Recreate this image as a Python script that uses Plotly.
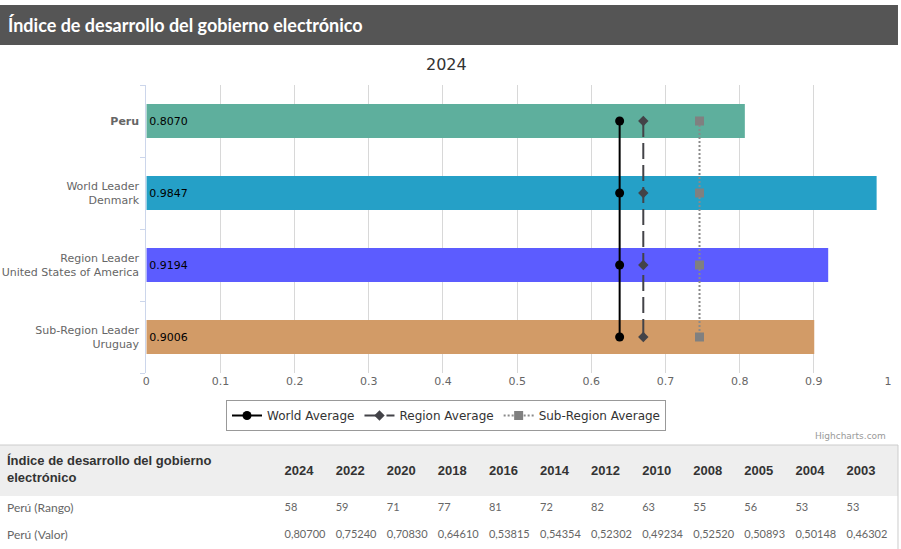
"""EGDI 2024 · Perú vs líderes (Highcharts-like bar + tabla histórica)."""
import plotly.graph_objects as go

REF_W, H = 901, 549
W = 911  # el visor comprime ~1% en horizontal; se compensa con un lienzo algo más ancho

# --- datos ---
categories = ["Peru", "World Leader<br>Denmark", "Region Leader<br>United States of America",
              "Sub-Region Leader<br>Uruguay"]
tick_labels = ["<b>Peru</b>", "World Leader<br>Denmark", "Region Leader<br>United States of America",
               "Sub-Region Leader<br>Uruguay"]
egdi_2024 = [0.8070, 0.9847, 0.9194, 0.9006]
world_avg = [0.6382, 0.6382, 0.6382, 0.6382]
region_avg = [0.6701, 0.6701, 0.6701, 0.6701]
subregion_avg = [0.7459, 0.7459, 0.7459, 0.7459]

table_title = "Índice de desarrollo del gobierno<br>electrónico"
row_labels = ["Perú (Rango)", "Perú (Valor)"]
years = ["2024", "2022", "2020", "2018", "2016", "2014", "2012", "2010", "2008", "2005", "2004", "2003"]
peru_rank = ["58", "59", "71", "77", "81", "72", "82", "63", "55", "56", "53", "53"]
peru_value = ["0,80700", "0,75240", "0,70830", "0,64610", "0,53815", "0,54354", "0,52302",
              "0,49234", "0,52520", "0,50893", "0,50148", "0,46302"]

# --- estilos ---
BAR_COLORS = ["#5EAF9D", "#25A0C7", "#5C5CFF", "#D29B67"]
TEXT = "#333333"
LABEL = "#666666"
GRID = "#D8D8D8"
AXIS = "#CCD6EB"
HEAD_BG = "#EEEEEE"
CLEAR = "rgba(0,0,0,0)"
CHART_FONT = "DejaVu Sans"
BODY_FONT = "Lato"


def px(x):
    return x / REF_W


def py(y):
    return 1 - y / H


fig = go.Figure()

fig.add_trace(go.Bar(
    y=categories, x=egdi_2024, orientation="h",
    marker=dict(color=BAR_COLORS, line=dict(width=0)),
    width=0.47,
    texttemplate="%{x:.4f}", textposition="inside", insidetextanchor="start",
    textfont=dict(color="#000000", size=11, family=CHART_FONT),
    constraintext="none", cliponaxis=False,
    showlegend=False, hoverinfo="skip",
))

fig.add_trace(go.Scatter(
    y=categories, x=world_avg, mode="lines+markers", name="World Average",
    line=dict(color="#000000", width=2),
    marker=dict(symbol="circle", size=9, color="#000000"),
))
fig.add_trace(go.Scatter(
    y=categories, x=region_avg, mode="lines+markers", name="Region Average",
    line=dict(color="#434348", width=2, dash="16px,6px"),
    marker=dict(symbol="diamond", size=8, color="#434348"),
))
fig.add_trace(go.Scatter(
    y=categories, x=subregion_avg, mode="lines+markers", name="Sub-Region Average",
    line=dict(color="#8A8A8A", width=2, dash="2px,2px"),
    marker=dict(symbol="square", size=9, color="#808080"),
))

# --- tabla: fondo + primera columna ---
fig.add_trace(go.Table(
    domain=dict(x=[0, px(897)], y=[0, py(445)]),
    columnwidth=[277, 620],
    header=dict(
        values=["<b>" + table_title + "</b>", ""],
        fill_color=HEAD_BG, line=dict(color=HEAD_BG, width=1),
        align="left", height=50,
        font=dict(family="Liberation Sans", size=13, color=TEXT),
    ),
    cells=dict(
        values=[row_labels, ["", ""]],
        fill_color="#FFFFFF", line=dict(color="#FFFFFF", width=1),
        align="left", height=27,
        font=dict(family=BODY_FONT, size=12, color=LABEL),
    ),
))

# --- tabla: columnas por año (encabezado centrado verticalmente) ---
fig.add_trace(go.Table(
    domain=dict(x=[px(277), px(897)], y=[0, py(455)]),
    columnwidth=[51] * 11 + [59],
    header=dict(
        values=["<b>" + y + "</b>" for y in years],
        fill_color=CLEAR, line=dict(color=CLEAR, width=0),
        align="left", height=40,
        font=dict(family="Liberation Sans", size=13, color=TEXT),
    ),
    cells=dict(
        values=[[r, v] for r, v in zip(peru_rank, peru_value)],
        fill_color=CLEAR, line=dict(color=CLEAR, width=0),
        align="left", height=27,
        font=dict(family=BODY_FONT, size=11, color=LABEL),
    ),
))

# --- layout ---
fig.update_layout(
    width=W, height=H,
    margin=dict(l=0, r=0, t=0, b=0),
    paper_bgcolor="#FFFFFF", plot_bgcolor="#FFFFFF",
    font=dict(family=CHART_FONT, color=LABEL, size=11),
    showlegend=True,
    legend=dict(
        orientation="h", x=px(446), xanchor="center", y=py(400), yanchor="top",
        bordercolor="#999999", borderwidth=1, bgcolor="#FFFFFF",
        font=dict(size=12, color=TEXT, family=CHART_FONT),
        itemwidth=30,
    ),
    hovermode=False,
    shapes=[
        dict(type="rect", xref="paper", yref="paper", x0=0, x1=px(897), y0=py(45), y1=py(5),
             fillcolor="#555555", line=dict(width=0), layer="below"),
        dict(type="line", xref="paper", yref="paper", x0=0, x1=px(897), y0=py(445), y1=py(445),
             line=dict(color="#CCCCCC", width=1)),
        dict(type="line", xref="paper", yref="paper", x0=px(897), x1=px(897), y0=0, y1=py(445),
             line=dict(color="#CCCCCC", width=1)),
    ],
    annotations=[
        dict(text="<b>Índice de desarrollo del gobierno electrónico</b>", xref="paper", yref="paper",
             x=px(7), y=py(25), xanchor="left", yanchor="middle", showarrow=False,
             font=dict(family=BODY_FONT, size=18, color="#FFFFFF")),
        dict(text="2024", xref="paper", yref="paper", x=px(447), y=py(64),
             xanchor="center", yanchor="middle", showarrow=False,
             font=dict(family=CHART_FONT, size=16, color=TEXT)),
        dict(text="Highcharts.com", xref="paper", yref="paper", x=px(887), y=py(436),
             xanchor="right", yanchor="middle", showarrow=False,
             font=dict(family=CHART_FONT, size=9, color="#999999")),
    ],
)

fig.update_xaxes(
    domain=[px(147), px(887)], range=[0, 1], dtick=0.1, tick0=0,
    showgrid=True, gridcolor=GRID, gridwidth=1, zeroline=False,
    showline=False, ticks="", tickfont=dict(size=11, color=LABEL),
    fixedrange=True,
)
fig.update_yaxes(
    domain=[py(373), py(85)], autorange="reversed",
    tickvals=categories, ticktext=tick_labels,
    showgrid=False, zeroline=False,
    showline=True, linecolor=AXIS, linewidth=1,
    ticks="outside", tickson="boundaries", ticklen=5, tickcolor=AXIS,
    ticklabelstandoff=4,
    tickfont=dict(size=11, color=LABEL),
    fixedrange=True,
)

# página sin márgenes, lienzo desplazado para quedar alineado con el borde izquierdo
page_css = (
    "document.documentElement.style.overflow='hidden';"
    "document.body.style.margin='0px';"
    "document.body.style.marginLeft='-5px';"
    "document.body.style.overflow='hidden';"
)
fig.write_html("out.html", config={"displayModeBar": False}, post_script=page_css)
